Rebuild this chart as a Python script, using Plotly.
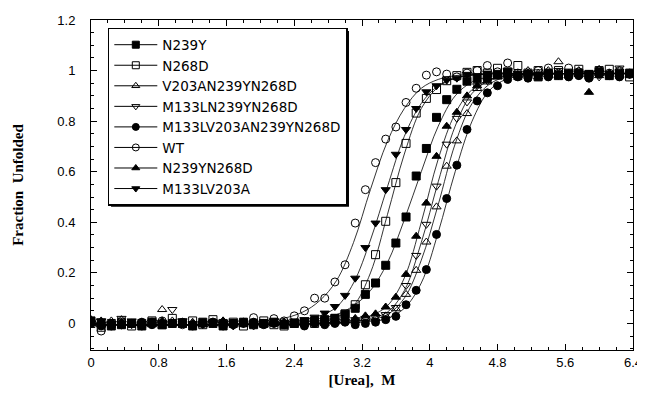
import plotly.graph_objects as go

# urea concentration grid of measured points (M)
urea = [0.00, 0.12, 0.24, 0.36, 0.48, 0.60, 0.72, 0.84, 0.96, 1.08,
        1.20, 1.32, 1.44, 1.56, 1.68, 1.80, 1.92, 2.04, 2.16, 2.28,
        2.40, 2.52, 2.64, 2.76, 2.88, 3.00, 3.12, 3.24, 3.36, 3.48,
        3.60, 3.72, 3.84, 3.96, 4.08, 4.20, 4.32, 4.44, 4.56, 4.68,
        4.80, 4.92, 5.04, 5.16, 5.28, 5.40, 5.52, 5.64, 5.76, 5.88,
        6.00, 6.12, 6.24, 6.36]

names = ["N239Y", "N268D", "V203AN239YN268D", "M133LN239YN268D",
         "M133LV203AN239YN268D", "WT", "N239YN268D", "M133LV203A"]

y_N239Y = [0.01, 0.0, -0.01, -0.005, 0.0, -0.01, 0.005, -0.005, 0.0, 0.0,
           -0.01, 0.005, 0.0, -0.01, 0.0, 0.005, -0.005, 0.0, 0.005, -0.005,
           0.0, 0.005, 0.01, 0.015, 0.02, 0.036, 0.06, 0.115, 0.160, 0.230,
           0.318, 0.421, 0.583, 0.692, 0.815, 0.885, 0.926, 0.958, 0.969, 0.975,
           0.985, 0.99, 0.98, 0.985, 0.975, 0.99, 0.98, 0.985, 0.99, 0.985,
           0.995, 0.98, 0.985, 0.99]
y_N268D = [0.0, -0.015, 0.0, 0.005, -0.01, 0.0, 0.01, -0.005, 0.02, 0.0,
           0.01, -0.005, 0.015, 0.0, 0.005, -0.01, 0.0, 0.01, -0.005, -0.01,
           0.0, 0.005, 0.0, 0.01, 0.02, 0.038, 0.074, 0.153, 0.272, 0.404,
           0.557, 0.712, 0.832, 0.89, 0.925, 0.96, 0.98, 0.993, 1.0, 0.99,
           1.009, 0.995, 1.02, 0.99, 1.0, 0.985, 1.0, 0.99, 1.005, 0.98,
           1.0, 1.005, 0.99, 0.975]
y_V203A = [0.0, -0.005, 0.01, 0.015, 0.0, 0.005, 0.0, 0.055, 0.01, 0.0,
           0.005, -0.005, 0.0, 0.01, 0.0, 0.005, 0.0, -0.005, 0.0, 0.005,
           0.0, 0.0, 0.005, 0.0, 0.005, 0.01, 0.01, 0.02, 0.02, 0.03,
           0.058, 0.115, 0.210, 0.322, 0.461, 0.622, 0.722, 0.83, 0.929, 0.955,
           0.975, 0.99, 0.985, 1.0, 0.99, 1.0, 1.035, 0.99, 1.0, 0.985,
           1.005, 0.99, 1.0, 0.99]
y_M133L = [0.0, 0.01, 0.0, 0.02, -0.005, 0.0, 0.005, 0.0, 0.055, 0.01,
           0.0, -0.005, 0.0, 0.005, 0.0, 0.0, -0.01, 0.005, 0.0, -0.005,
           0.0, 0.005, 0.0, 0.005, 0.01, 0.01, 0.015, 0.02, 0.025, 0.035,
           0.063, 0.150, 0.269, 0.392, 0.543, 0.709, 0.811, 0.876, 0.94, 0.96,
           0.985, 1.0, 0.99, 0.98, 0.995, 0.985, 1.0, 0.99, 0.98, 0.99,
           0.975, 0.99, 1.01, 0.985]
y_M133LV203AN = [0.0, -0.01, 0.0, -0.005, 0.0, 0.005, -0.005, 0.0, 0.0, 0.005,
                 -0.005, 0.0, 0.005, 0.0, -0.005, 0.0, 0.005, -0.005, 0.0, -0.005,
                 0.0, -0.01, 0.0, -0.005, 0.0, 0.005, -0.005, 0.0, 0.005, 0.015,
                 0.028, 0.074, 0.131, 0.213, 0.352, 0.494, 0.626, 0.767, 0.880, 0.912,
                 0.94, 0.965, 0.975, 0.97, 0.98, 0.975, 0.985, 0.975, 0.98, 0.97,
                 0.985, 0.98, 0.975, 0.985]
y_WT = [0.01, -0.03, -0.01, -0.005, 0.0, -0.01, 0.005, 0.01, 0.0, -0.005,
        -0.01, 0.0, 0.005, -0.01, 0.0, 0.005, 0.023, 0.0, 0.019, 0.01,
        0.03, 0.05, 0.100, 0.100, 0.164, 0.232, 0.397, 0.529, 0.636, 0.729,
        0.777, 0.874, 0.93, 0.982, 0.995, 0.986, 0.975, 0.99, 1.0, 1.02,
        0.995, 1.03, 0.99, 0.985, 1.0, 1.01, 0.99, 1.01, 0.995, 0.985,
        1.0, 0.99, 1.0, 0.99]
y_N239YN268D = [0.015, 0.01, 0.0, 0.005, 0.0, 0.0, -0.005, 0.01, 0.0, 0.005,
                0.0, -0.005, 0.0, 0.01, 0.0, -0.005, 0.005, 0.0, 0.0, 0.005,
                0.0, 0.005, 0.01, 0.01, 0.015, 0.02, 0.02, 0.03, 0.038, 0.065,
                0.104, 0.194, 0.345, 0.476, 0.661, 0.780, 0.835, 0.90, 0.94, 0.96,
                0.975, 0.985, 0.98, 0.99, 0.975, 0.985, 0.98, 0.99, 0.985, 0.914,
                0.98, 0.99, 0.985, 0.98]
y_M133LV203A = [0.0, 0.01, -0.005, 0.0, 0.01, 0.0, -0.005, 0.005, 0.0, 0.01,
                -0.005, 0.0, 0.005, 0.0, -0.01, 0.005, 0.0, 0.005, 0.01, 0.005,
                0.01, 0.015, 0.025, 0.041, 0.067, 0.111, 0.179, 0.300, 0.397, 0.529,
                0.669, 0.767, 0.850, 0.916, 0.94, 0.962, 0.97, 0.985, 0.98, 0.99,
                0.985, 0.995, 0.98, 0.99, 0.985, 0.99, 0.98, 0.995, 0.99, 0.985,
                0.99, 0.98, 0.995, 0.99]

# fitted curves
fit_x = [0.0, 1.6, 2.2, 2.5, 2.7, 2.9, 3.1, 3.3, 3.5, 3.7, 3.9, 4.1, 4.3,
         4.5, 4.7, 4.9, 5.2, 5.6, 6.4]
fit_N239Y = [-0.005, -0.004, 0.003, 0.01, 0.02, 0.035, 0.07, 0.13, 0.24, 0.41,
             0.6, 0.78, 0.9, 0.955, 0.976, 0.984, 0.987, 0.988, 0.988]
fit_N268D = [-0.005, -0.005, 0.0, 0.005, 0.012, 0.025, 0.07, 0.2, 0.43, 0.67,
             0.85, 0.935, 0.97, 0.982, 0.986, 0.988, 0.988, 0.988, 0.988]
fit_V203A = [-0.005, -0.005, -0.004, -0.003, 0.0, 0.002, 0.006, 0.015, 0.035,
             0.1, 0.25, 0.47, 0.71, 0.87, 0.945, 0.975, 0.985, 0.988, 0.988]
fit_M133L = [-0.005, -0.005, -0.004, -0.002, 0.0, 0.003, 0.008, 0.02, 0.045,
             0.13, 0.32, 0.56, 0.78, 0.91, 0.96, 0.978, 0.986, 0.988, 0.988]
fit_M133LV203AN = [-0.005, -0.005, -0.005, -0.004, -0.003, 0.0, 0.003, 0.008,
                   0.02, 0.06, 0.16, 0.36, 0.6, 0.8, 0.92, 0.965, 0.982, 0.987, 0.988]
fit_WT = [-0.005, -0.002, 0.015, 0.045, 0.09, 0.17, 0.32, 0.53, 0.72, 0.85,
          0.93, 0.965, 0.98, 0.985, 0.988, 0.988, 0.988, 0.988, 0.988]
fit_N239YN268D = [-0.005, -0.005, -0.003, -0.001, 0.002, 0.005, 0.012, 0.03,
                  0.07, 0.18, 0.4, 0.65, 0.83, 0.925, 0.965, 0.98, 0.986, 0.988, 0.988]
fit_M133LV203A = [-0.005, -0.004, 0.005, 0.015, 0.03, 0.065, 0.16, 0.33, 0.54,
                  0.74, 0.87, 0.94, 0.97, 0.982, 0.986, 0.988, 0.988, 0.988, 0.988]

series_y = [y_N239Y, y_N268D, y_V203A, y_M133L, y_M133LV203AN, y_WT,
            y_N239YN268D, y_M133LV203A]
series_fit = [fit_N239Y, fit_N268D, fit_V203A, fit_M133L, fit_M133LV203AN,
              fit_WT, fit_N239YN268D, fit_M133LV203A]
symbols = ["square", "square-open", "triangle-up-open", "triangle-down-open",
           "circle", "circle-open", "triangle-up", "triangle-down"]

x_ticks = [0, 0.8, 1.6, 2.4, 3.2, 4, 4.8, 5.6, 6.4]
x_ticklabels = ["0", "0.8", "1.6", "2.4", "3.2", "4", "4.8", "5.6", "6.4"]
y_ticks = [0, 0.2, 0.4, 0.6, 0.8, 1, 1.2]
y_ticklabels = ["0", "0.2", "0.4", "0.6", "0.8", "1", "1.2"]

fig = go.Figure()

for name, fy in zip(names, series_fit):
    fig.add_trace(go.Scatter(x=fit_x, y=fy, mode="lines", showlegend=False,
                             line=dict(color="black", width=0.8, shape="spline"),
                             hoverinfo="skip"))

for name, yy, sym in zip(names, series_y, symbols):
    fig.add_trace(go.Scatter(x=urea, y=yy, mode="markers", name=name, showlegend=False,
                             marker=dict(symbol=sym, size=8, color="black",
                                         line=dict(color="black", width=1))))

# legend entries (line + marker)
for name, sym in zip(names, symbols):
    fig.add_trace(go.Scatter(x=[None], y=[None], mode="lines+markers", name=name,
                             marker=dict(symbol=sym, size=7, color="black",
                                         line=dict(color="black", width=1)),
                             line=dict(color="black", width=1)))

axis_common = dict(showline=True, linecolor="black", linewidth=1, mirror="ticks",
                   ticks="inside", ticklen=6, tickcolor="black", showgrid=False,
                   zeroline=False, automargin=False,
                   tickfont=dict(family="Liberation Sans, Arial", size=13, color="black"))

fig.update_xaxes(range=[0, 6.4], tickvals=x_ticks, ticktext=x_ticklabels,
                 minor=dict(dtick=0.2, tick0=0, ticks="inside", ticklen=3, tickcolor="black"),
                 title=dict(text="<b>[Urea],  M</b>", standoff=5,
                            font=dict(family="Liberation Serif, Times New Roman", size=15,
                                      color="black")),
                 **axis_common)
fig.update_yaxes(range=[-0.105, 1.2], tickvals=y_ticks, ticktext=y_ticklabels,
                 minor=dict(dtick=0.05, tick0=0, ticks="inside", ticklen=3, tickcolor="black"),
                 ticklabelstandoff=12,
                 title=dict(text="<b>Fraction  Unfolded</b>", standoff=30,
                            font=dict(family="Liberation Serif, Times New Roman", size=15,
                                      color="black")),
                 **axis_common)

# legend drop shadow (decoration behind the legend box)
fig.add_shape(type="rect", xref="paper", yref="paper", layer="above",
              x0=0.037, x1=0.476, y0=0.434, y1=0.967,
              fillcolor="black", line=dict(width=0))

# the page body adds an 8px offset, so the margins are shifted by that amount
fig.update_layout(
    width=645, height=399,
    margin=dict(l=83, r=20, t=12, b=57),
    plot_bgcolor="white", paper_bgcolor="white",
    legend=dict(x=0.031, y=0.976, xanchor="left", yanchor="top",
                bgcolor="white", bordercolor="black", borderwidth=1.5,
                font=dict(family="DejaVu Sans", size=13.5, color="black"),
                tracegroupgap=0, itemwidth=43),
)

fig.write_html("out.html")
